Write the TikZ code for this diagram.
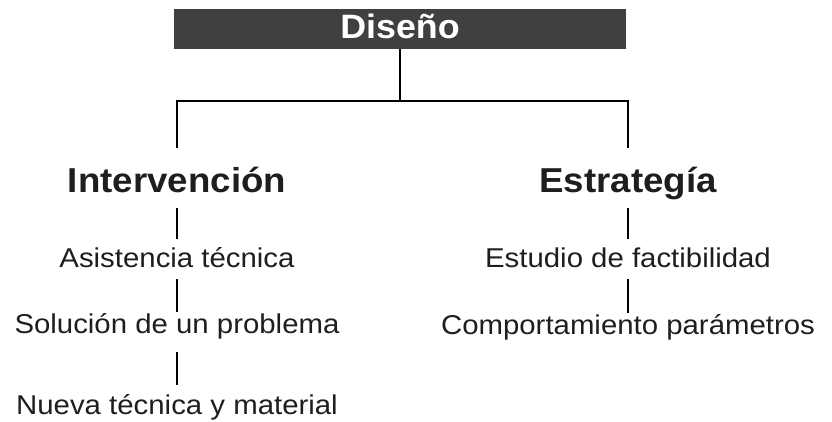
\documentclass[tikz,border=0pt]{standalone}
\usepackage{fontspec}
\newfontfamily\headfont{Liberation Sans}[FakeStretch=1.06]
\newfontfamily\itemfont{Liberation Sans}[FakeStretch=1.08]
\definecolor{boxgray}{HTML}{404040}
\definecolor{inkc}{HTML}{1E1E1E}
\begin{document}
\begin{tikzpicture}[x=1pt,y=-1pt,
  topbox/.style={fill=boxgray,text=white,inner sep=0pt,minimum width=452pt,minimum height=40pt,
     text height=24pt,text depth=4pt,font=\headfont\bfseries\fontsize{33.8}{38}\selectfont},
  head/.style={anchor=base,inner sep=0pt,text=inkc,font=\headfont\bfseries\fontsize{34.6}{40}\selectfont},
  item/.style={anchor=base,inner sep=0pt,text=inkc,font=\itemfont\fontsize{27.2}{30}\selectfont},
  link/.style={draw=black,line width=2pt},
  sublink/.style={draw=black,line width=2.6pt}]
\useasboundingbox (0,0) rectangle (832,422);

\node[topbox] (dis) at (400,29) {Diseño};

\node[head] (int) at (177,193) {Intervención};
\node[head] (est) at (628,193) {Estrategía};

\node[item] (asi) at (177,267) {Asistencia técnica};
\node[item] (sol) at (177,333) {Solución de un problema};
\node[item] (nue) at (177,414) {Nueva técnica y material};

\node[item] (etu) at (628,267) {Estudio de factibilidad};
\node[item] (com) at (628,334) {Comportamiento parámetros};

\coordinate (jt) at ([yshift=-52pt]dis.south);
\draw[link] (dis.south) -- (jt);
\draw[link] ([yshift=45pt]int.base) |- (jt) -| ([yshift=45pt]est.base);

\draw[sublink] ([yshift=-15pt]int.base) -- ([yshift=28pt]asi.base);
\draw[sublink] ([yshift=-12pt]asi.base) -- ([yshift=21pt]sol.base);
\draw[sublink] ([yshift=-19pt]sol.base) -- ([yshift=29pt]nue.base);

\draw[sublink] ([yshift=-15pt]est.base) -- ([yshift=28pt]etu.base);
\draw[sublink] ([yshift=-12pt]etu.base) -- ([yshift=21pt]com.base);
\end{tikzpicture}
\end{document}
